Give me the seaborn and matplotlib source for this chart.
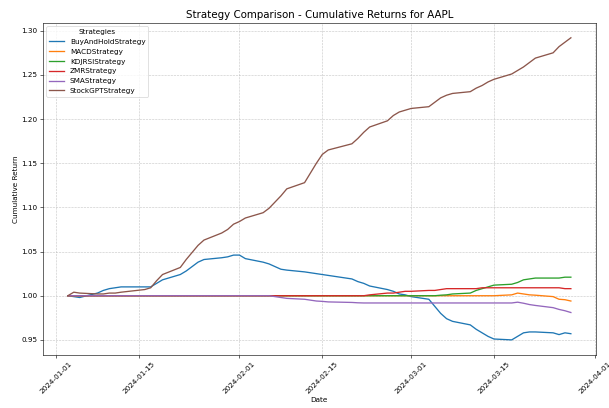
import pandas as pd
import numpy as np
import matplotlib.pyplot as plt
import seaborn as sns

# trading days, Jan 3 - Mar 28 2024 (MLK day and Presidents day closed)
dates = pd.bdate_range('2024-01-03', '2024-03-28', freq='C', holidays=['2024-01-15', '2024-02-19'])

buy_hold = [1.000, 0.999, 0.998, 1.003, 1.006, 1.008, 1.009, 1.010, 1.010, 1.010,
            1.014, 1.018, 1.024, 1.028, 1.033, 1.038, 1.041, 1.043, 1.044, 1.046,
            1.046, 1.042, 1.038, 1.036, 1.033, 1.030, 1.029, 1.027, 1.026, 1.025,
            1.024, 1.023, 1.019, 1.016, 1.014, 1.011, 1.007, 1.005, 1.002, 1.001,
            0.999, 0.996, 0.988, 0.980, 0.974, 0.971, 0.967, 0.962, 0.958, 0.954,
            0.951, 0.950, 0.954, 0.958, 0.959, 0.959, 0.958, 0.956, 0.958, 0.957]

macd = [1.0] * 51 + [1.001, 1.003, 1.002, 1.001, 1.0006, 0.999, 0.996, 0.9955, 0.994]

kdjrsi = [1.0] * 43 + [1.0006, 1.001, 1.002, 1.003, 1.006, 1.008, 1.010, 1.012, 1.013,
                       1.015, 1.018, 1.019, 1.020, 1.020, 1.020, 1.021, 1.021]

zmr = [1.0] * 35 + [1.001, 1.003, 1.003, 1.004, 1.005, 1.005, 1.006, 1.006, 1.007, 1.008,
                    1.008, 1.008, 1.008, 1.009, 1.009, 1.009, 1.009, 1.009, 1.009, 1.009,
                    1.009, 1.009, 1.009, 1.008, 1.008]

sma = [1.0] * 24 + [0.999, 0.998, 0.997, 0.996, 0.995, 0.994, 0.9936, 0.993, 0.9924, 0.992] \
      + [0.9918] * 18 + [0.9927, 0.9915, 0.990, 0.989, 0.9865, 0.9845, 0.983, 0.981]

stock_gpt = [1.000, 1.004, 1.003, 1.002, 1.002, 1.003, 1.003, 1.004, 1.007, 1.009,
             1.017, 1.024, 1.032, 1.041, 1.049, 1.057, 1.063, 1.071, 1.075, 1.081,
             1.084, 1.088, 1.094, 1.099, 1.106, 1.113, 1.121, 1.128, 1.139, 1.150,
             1.160, 1.165, 1.172, 1.178, 1.185, 1.191, 1.198, 1.204, 1.208, 1.210,
             1.212, 1.214, 1.219, 1.224, 1.227, 1.229, 1.231, 1.235, 1.238, 1.242,
             1.245, 1.251, 1.255, 1.259, 1.264, 1.269, 1.275, 1.282, 1.287, 1.292]

strategies = ['BuyAndHoldStrategy', 'MACDStrategy', 'KDJRSIStrategy',
              'ZMRStrategy', 'SMAStrategy', 'StockGPTStrategy']
series = [buy_hold, macd, kdjrsi, zmr, sma, stock_gpt]

df = pd.concat([pd.DataFrame({'Date': dates, 'Cumulative Return': vals, 'Strategy': name})
                for name, vals in zip(strategies, series)], ignore_index=True)

DPI = 52.7
fig, ax = plt.subplots(figsize=(609 / DPI, 408 / DPI), dpi=DPI)

sns.lineplot(data=df, x='Date', y='Cumulative Return', hue='Strategy',
             hue_order=strategies, palette='tab10', linewidth=1.8, ax=ax)

ax.set_title('Strategy Comparison - Cumulative Returns for AAPL', fontsize=14)
ax.set_xlabel('Date')
ax.set_ylabel('Cumulative Return')
ax.legend(title='Strategies', loc='upper left')
ax.grid(True, linestyle='--', alpha=0.7)
plt.xticks(rotation=45)
fig.subplots_adjust(left=0.0701, right=0.9787, top=0.9444, bottom=0.1299)

plt.savefig('out.png', dpi=DPI)
